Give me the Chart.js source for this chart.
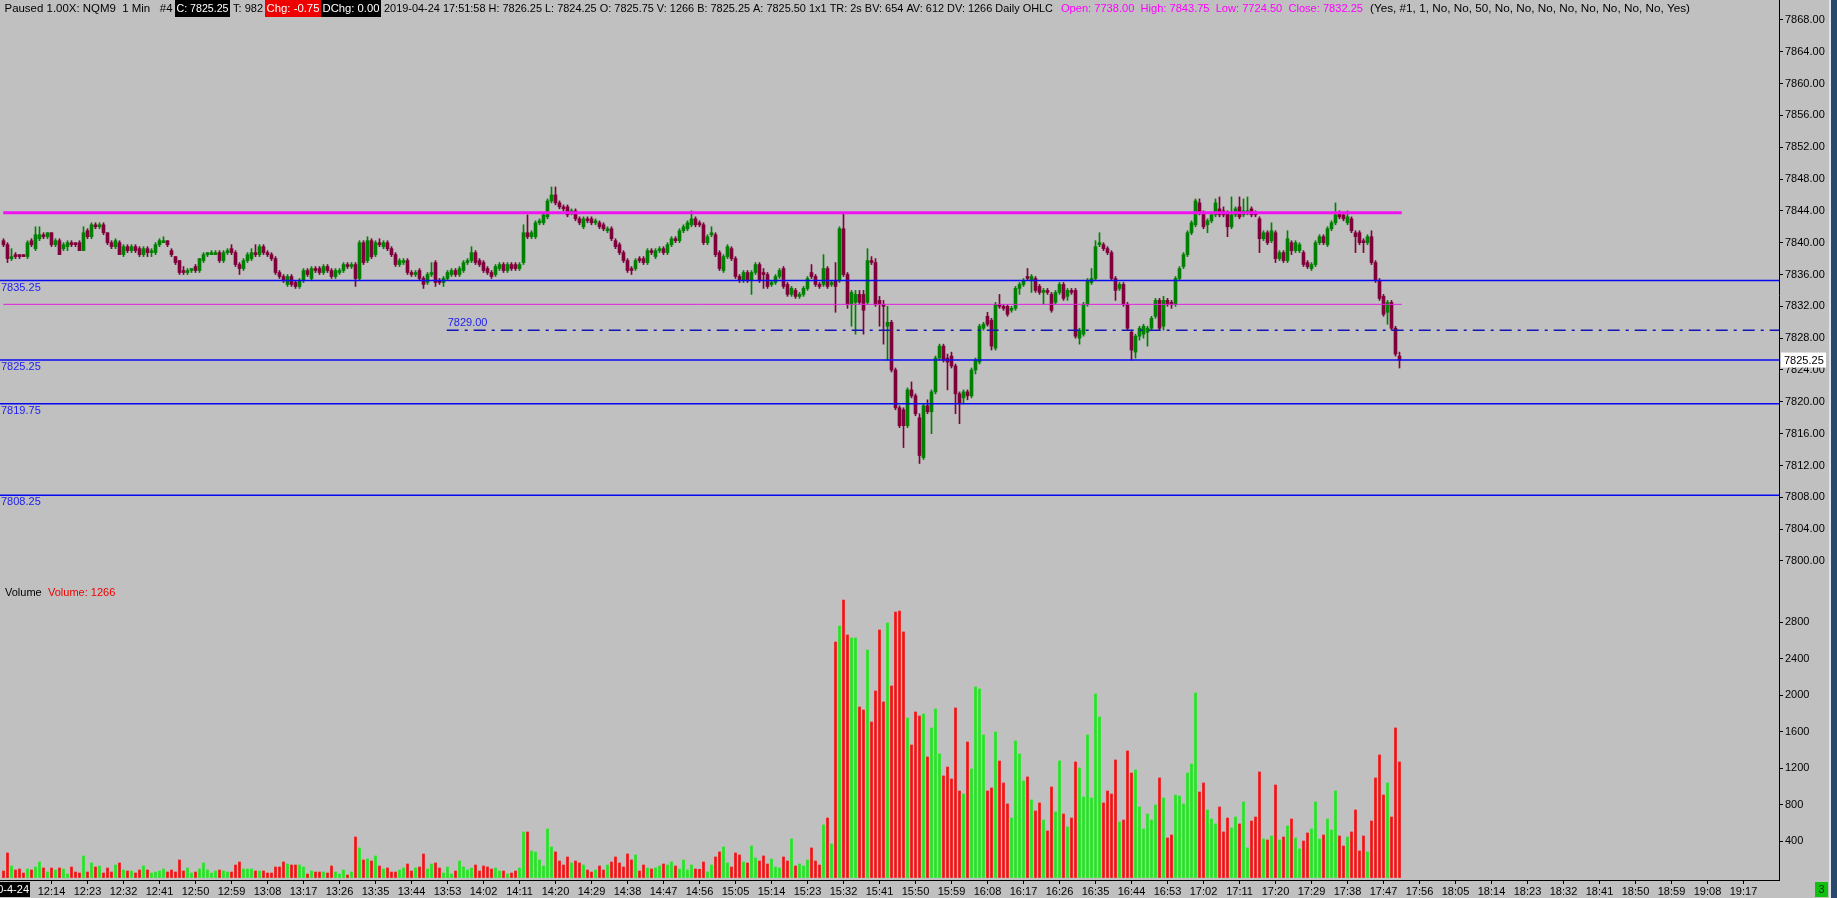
<!DOCTYPE html>
<html>
<head>
<meta charset="utf-8">
<title>NQM9 1 Min</title>
<script src="https://cdn.jsdelivr.net/npm/chart.js@4.4.1/dist/chart.umd.min.js"></script>
<style>
  html, body { margin: 0; padding: 0; background: #c0c0c0; overflow: hidden; }
  canvas { display: block; }
</style>
</head>
<body>
<canvas id="chart" width="1837" height="898"></canvas>
<script>
// first bar is 12:02, one bar per minute (minutes counted from 12:00)
const firstMinute = 2;

const opens = [
  7840.25,7839.75,7838,7838.5,7838.5,7838.5,7838.25,7840.25,7839.25,7840.5,
  7841,7840.75,7841.25,7839.75,7840.25,7839.25,7839.5,7840,7840,7840,
  7839,7841.5,7840.75,7842.25,7842,7842.25,7841.25,7840,7839.5,7840,
  7838.5,7839.5,7839,7839.5,7839.25,7838.5,7839.25,7838.75,7838.75,7839.75,
  7840,7840.25,7839,7838.25,7837.75,7836.5,7836.25,7836.5,7837,7836.5,
  7837.75,7838.5,7838.5,7838.5,7838.75,7837.75,7838.75,7839.25,7838.75,7837.25,
  7836.75,7837.75,7838,7838.75,7838.5,7839.5,7838.75,7838.5,7838,7836.25,
  7835.75,7834.75,7835.75,7835,7834.5,7835.25,7836.5,7835.5,7836.75,7836.75,
  7836.25,7837,7836.5,7835.75,7836.25,7836.5,7837.25,7837,7837.25,7835.5,
  7840,7837.75,7840.25,7838.5,7840,7839.5,7840,7839.25,7838.5,7837.25,
  7837.5,7837.75,7836.25,7836,7836.5,7835.5,7835,7836,7837.5,7835.25,
  7835,7835.5,7836,7836.5,7836,7836.5,7837.5,7837.75,7838.75,7837.75,
  7837.5,7836.75,7836.25,7836,7836.75,7837.25,7836.5,7837.25,7837.25,7836.75,
  7837.5,7841.25,7840.75,7840.75,7842.5,7842.5,7843.25,7845.25,7846,7845,
  7844.5,7844.5,7843.75,7844,7843,7842,7843,7843,7842.5,7842.5,
  7842.25,7841.5,7841.75,7840.25,7839.75,7838.75,7837.75,7836.75,7836.75,7838,
  7838,7837.5,7839,7838.25,7839,7839.25,7838.75,7839.75,7840.5,7840.25,
  7841.5,7841.75,7842.25,7843,7842.5,7842.25,7840,7841,7841,7838.75,
  7836.5,7838.25,7839.25,7838,7835.75,7835.25,7836.25,7835.25,7836.25,7837.25,
  7836.25,7836,7834.75,7835,7835.75,7836.75,7834.75,7833.5,7834,7833.25,
  7833.5,7834.25,7836.25,7835.75,7834.75,7834.75,7836.75,7834.75,7835.25,7835.25,
  7841.75,7836,7832.25,7832.5,7833.5,7833.5,7832.5,7837.75,7837.5,7832.75,
  7832.25,7829.5,7830,7824,7819.25,7819,7817,7821.5,7820.75,7818,
  7813,7819.5,7818.75,7821.25,7825.5,7827,7825.5,7825.75,7824.5,7821,
  7820.5,7821.25,7820.75,7824,7825,7829.25,7830.75,7830.25,7826.75,7832.25,
  7832,7832,7831.5,7831.75,7834.25,7834.75,7835.75,7835.25,7835.5,7834.5,
  7833.75,7834,7833.5,7832.5,7833.75,7834.75,7833.25,7834,7834,7828,
  7828.5,7832.25,7835,7835.5,7839.75,7839.75,7839.25,7838.75,7835.5,7834.25,
  7834.75,7832.25,7828.75,7826.25,7828.25,7828.5,7828.75,7829.25,7830.75,7832.75,
  7829.5,7832.75,7832.5,7832.25,7835.5,7837,7838.5,7841.25,7842.25,7845,
  7843.75,7842.25,7842.75,7843.5,7844.25,7844,7843.75,7842,7843.5,7844.5,
  7843.5,7843.75,7844.25,7843.75,7843,7840.5,7841.25,7840.25,7841.25,7838,
  7838.75,7837.75,7840,7839,7839,7838.75,7837.5,7836.75,7837.25,7840,
  7840.75,7839.75,7841.75,7842.5,7843.75,7843.5,7842.5,7843,7841.25,7841.25,
  7840.25,7840,7840.75,7837.5,7835.25,7833.25,7831.25,7832.5,7829.25,7825.75
];

const highs = [
  7840.5,7840,7839.25,7838.75,7838.5,7838.5,7840.25,7840.5,7842,7842,
  7841.25,7841.25,7841.25,7840.5,7840.5,7840,7840.25,7840.25,7840,7840.25,
  7842,7841.75,7842.5,7842.5,7842.5,7842.5,7841.25,7840.25,7840.5,7840.25,
  7839.75,7839.75,7839.75,7839.75,7839.5,7839.5,7839.5,7839.25,7840,7840.5,
  7840.75,7840.25,7839.25,7838.25,7837.75,7837,7836.75,7836.75,7837.25,7838,
  7838.75,7838.75,7839,7839,7839,7839,7839.25,7839.75,7839,7837.5,
  7838,7838.75,7839.25,7839.75,7839.75,7839.75,7839,7838.75,7838.25,7836.5,
  7836,7836,7836,7835.25,7835.5,7836.75,7836.75,7837,7837,7837,
  7837.25,7837.25,7836.75,7836.75,7836.75,7837.5,7837.5,7837.5,7837.5,7840.25,
  7840.25,7840.75,7840.5,7840.25,7840.5,7840.25,7840.25,7839.5,7838.75,7838,
  7838,7838,7836.5,7836.5,7836.75,7835.75,7836.25,7837.5,7837.75,7835.5,
  7835.75,7836.5,7836.75,7836.75,7837,7837.75,7838,7839.5,7839,7838,
  7837.75,7837,7836.5,7837.25,7837.5,7837.5,7837.5,7837.5,7837.5,7837.5,
  7842.25,7843.5,7841.5,7842.75,7843,7843.75,7845.5,7847,7847,7845.25,
  7844.75,7844.75,7844.25,7844.25,7843.25,7843.25,7843.25,7843.25,7843,7842.75,
  7842.5,7842,7842,7840.5,7840,7839,7838,7837,7838,7838.25,
  7838.25,7839.25,7839.25,7839.25,7839.5,7839.5,7840,7840.75,7840.75,7841.75,
  7842.25,7842.75,7844,7843.25,7842.75,7842.5,7841,7842,7841.25,7839,
  7838.5,7839.75,7839.5,7838.25,7836,7836.5,7836.5,7836.5,7837.5,7837.5,
  7836.75,7836.25,7835.25,7836,7836.75,7837,7835,7834.5,7834.25,7833.75,
  7834.5,7835.75,7837.25,7836,7835,7838.5,7837,7835.25,7837.5,7842,
  7843.75,7836.25,7834,7834,7834,7834,7839.25,7838.25,7838,7833.25,
  7832.75,7832,7830.25,7824.25,7819.5,7819.25,7821.75,7822.5,7821,7818.5,
  7819.75,7820.25,7821.5,7825.75,7827.25,7827.25,7826,7826.25,7824.75,7821.25,
  7821.5,7821.5,7824.25,7825.5,7829.75,7830,7831.25,7830.5,7832.5,7833.5,
  7832.25,7832.25,7832,7834.5,7835,7835.5,7836.75,7836,7835.75,7834.75,
  7834.25,7834.25,7833.75,7834,7835,7835,7834.25,7834.25,7834.25,7829.25,
  7832.5,7835.5,7836.75,7840.25,7841.25,7840,7839.5,7839,7835.75,7835,
  7835,7832.5,7829,7828.5,7829.5,7829.75,7829.5,7830.75,7833,7833,
  7833.25,7833,7832.75,7835.75,7837,7838.75,7841.5,7842.75,7845.5,7845.5,
  7844,7843,7843.75,7845.5,7845.75,7844.5,7844,7845.75,7844.5,7845.75,
  7845.5,7845.75,7844.5,7844,7843.25,7841.5,7841.5,7842.5,7841.5,7839,
  7839,7841.5,7840.25,7840.25,7840,7839,7837.75,7837.5,7840.25,7841,
  7841,7842,7842.75,7845,7844,7843.75,7844,7843.25,7841.5,7841.5,
  7840.5,7841,7841.5,7837.75,7835.5,7833.5,7832.75,7832.75,7829.5,7826.25
];

const lows = [
  7839.5,7837.5,7837.75,7838,7838,7838.25,7838,7839.5,7839,7840.25,
  7840.5,7840.5,7839.5,7839.5,7838.5,7839,7839,7839.5,7839.5,7839,
  7839,7840.5,7840.5,7841.75,7841.75,7841,7839.75,7839.25,7839.25,7838.5,
  7838.25,7838.75,7838.75,7838.75,7838.25,7838.25,7838.25,7838.25,7838.5,7839.5,
  7840,7839.5,7838.25,7837.25,7836,7836,7836,7836.25,7836.25,7836.25,
  7837.5,7838.25,7838.5,7838.5,7837.5,7837.5,7838.5,7838.5,7837,7836,
  7836.5,7837.5,7837.75,7838.25,7838.25,7838.5,7838.25,7837.75,7836,7835.5,
  7835,7834.5,7834.5,7834.25,7834.25,7835,7835.75,7835.25,7836.25,7836,
  7836,7836.25,7835.5,7835.5,7836,7836.25,7836.75,7836.75,7834.5,7835.25,
  7837.25,7837.5,7838,7838.25,7839.5,7839.25,7839,7838.25,7837,7837,
  7837.25,7836,7835.75,7835.75,7835.25,7834.25,7834.75,7835.75,7834.5,7834.75,
  7834.5,7835.25,7835.75,7835.75,7835.75,7836.25,7837.25,7837.5,7837.25,7837,
  7836.25,7836,7835.5,7835.75,7836.5,7836.25,7836.25,7836.5,7836.5,7836.5,
  7837.25,7840.5,7840.5,7840.5,7842.25,7842.25,7843,7845,7844.75,7844.25,
  7844,7843.25,7843.5,7842.75,7842.25,7841.75,7842.5,7842.25,7842.25,7841.75,
  7841.5,7841.25,7840.25,7839.25,7838.5,7837.5,7836.25,7836,7836.5,7837.5,
  7837.25,7837.25,7838.5,7838,7838.75,7838.5,7838.5,7839.5,7840,7840,
  7841.25,7841.5,7842,7842,7842,7839.75,7839.75,7840.75,7838.25,7836.5,
  7836.25,7838,7837.75,7835.5,7835,7835,7835,7833.5,7836,7835,
  7834.25,7834.25,7834.5,7834.75,7835.5,7834.25,7833.25,7833.25,7833,7833,
  7833.25,7834,7835.5,7834.5,7834.25,7834.5,7834.25,7834.5,7831.25,7835,
  7835.75,7831.75,7829.5,7828.5,7832.25,7828.5,7832.25,7837.25,7832,7829.5,
  7827.25,7825.25,7823.75,7819,7816.75,7814.25,7816.75,7820.5,7818.25,7812.25,
  7812.75,7818.5,7816,7821,7825.25,7825,7821.5,7824.25,7818.5,7817.25,
  7819.75,7820.25,7820.5,7823.5,7824.75,7829,7829.5,7826.5,7826.5,7831.75,
  7831.5,7830.75,7831.25,7831.5,7833.5,7834.5,7835.25,7833.75,7833.75,7833.5,
  7832.25,7833.5,7831.25,7832.25,7833.5,7832.75,7832.75,7833.5,7828,7827.25,
  7828.25,7832,7834.75,7835.25,7839.5,7839,7838.5,7835.25,7832.75,7834,
  7832,7829,7825.25,7825.5,7827.75,7828,7827,7829,7830.5,7829,
  7829,7832,7831.75,7832,7835.25,7836.75,7838.25,7841,7842,7843.5,
  7841.75,7841.25,7842.5,7843.25,7843.25,7843.25,7840.75,7841.75,7843.25,7843,
  7843.25,7843.5,7843.25,7843.25,7838.75,7840.25,7839.75,7840,7837.5,7837.75,
  7837.5,7837.5,7838.5,7838.75,7838.75,7837,7836.75,7836.5,7837,7839.75,
  7839.75,7839.5,7841.5,7842.25,7843,7842.75,7842.25,7841.25,7838.75,7839.75,
  7838.75,7839.75,7837.25,7835,7832.75,7830.75,7829.75,7829,7825.75,7824.25
];

const closes = [
  7839.75,7838,7838.25,7838.25,7838.25,7838.25,7840,7839.75,7841,7841,
  7840.75,7841.25,7839.75,7840.25,7838.5,7839.75,7840,7839.75,7839.75,7839,
  7841.25,7840.75,7842.25,7842,7842.25,7841.25,7840,7839.5,7840.25,7838.5,
  7839.5,7839,7839.5,7839,7838.5,7839.25,7838.75,7839,7839.75,7840.25,
  7840.25,7839.75,7838.5,7837.5,7836.25,7836.25,7836.5,7836.75,7836.5,7838,
  7838.5,7838.75,7838.75,7838.75,7837.75,7838.75,7839,7838.75,7837.25,7836.75,
  7837.75,7838.5,7838.75,7838.5,7839.5,7838.75,7838.5,7838,7836.25,7835.75,
  7835.25,7835.75,7834.75,7834.5,7835.25,7836.5,7836,7836.75,7836.5,7836.25,
  7837,7836.5,7835.75,7836.5,7836.5,7837.25,7837,7837.25,7835.5,7840,
  7837.5,7840.25,7838.25,7840,7839.75,7840,7839.25,7838.5,7837.25,7837.75,
  7837.75,7836.25,7836,7836.25,7835.5,7834.75,7836,7836.25,7835,7835,
  7835.5,7836.25,7836.5,7836,7836.75,7837.5,7837.75,7838.75,7837.5,7837.25,
  7836.5,7836.25,7835.75,7837,7837.25,7836.5,7837.25,7836.75,7836.75,7837.25,
  7841.25,7840.75,7841.25,7842.5,7842.75,7843.5,7845.25,7846,7845,7844.5,
  7844.25,7843.5,7844,7843,7842.5,7843,7842.75,7842.5,7842.75,7842,
  7841.75,7841.75,7840.5,7839.5,7838.75,7837.75,7836.5,7836.5,7837.75,7837.75,
  7837.5,7839,7838.75,7839,7839.25,7838.75,7839.75,7840.5,7840.25,7841.5,
  7842,7842.5,7843,7842.25,7842.25,7840,7840.75,7841.25,7838.5,7836.75,
  7838.25,7839.5,7838,7835.75,7835.25,7836.25,7835.25,7836.25,7837.25,7835.25,
  7836,7834.5,7835,7835.75,7836.5,7834.5,7833.5,7834.25,7833.25,7833.5,
  7834.25,7835.5,7835.75,7834.75,7834.5,7836.75,7834.5,7835,7834.5,7841.75,
  7836,7832.25,7833.75,7833.5,7832.5,7831.5,7837.75,7837.5,7832.25,7832.25,
  7832,7830,7824,7819.25,7817,7817,7821.5,7820.75,7818.5,7813.25,
  7819.5,7818.75,7821.25,7825.5,7827,7825.25,7825,7824.5,7821,7819.75,
  7821.25,7820.75,7824,7825.25,7829.5,7829.75,7829.75,7827,7832.25,7832,
  7831.75,7831,7831.75,7834.25,7834.75,7835.25,7835.5,7835.75,7834,7833.75,
  7834,7833.75,7831.5,7833.75,7834.75,7833,7834,7833.75,7828.25,7829,
  7832.25,7835.25,7835.5,7839.5,7840,7839.25,7838.75,7835.5,7834,7834.75,
  7832.25,7829.25,7826.5,7828.25,7829.25,7829.5,7829.25,7830.5,7832.75,7829.25,
  7832.75,7832.25,7832.25,7835.5,7836.75,7838.5,7841.25,7842.5,7845.25,7843.75,
  7842,7842.75,7843.5,7845,7843.5,7843.5,7842,7843.5,7844.25,7843.25,
  7844,7844,7843.5,7843.5,7840.5,7841.25,7840,7841.5,7838,7838.75,
  7837.75,7840.5,7839,7840,7839.75,7837.25,7837,7837.25,7840,7840.75,
  7840,7841.75,7842.5,7843.5,7843.25,7843,7843.25,7841.5,7840.75,7840,
  7840,7840.75,7837.5,7835.25,7833,7831,7832.5,7829.25,7826,7825.25
];

const volumes = [
  71,269,126,82,93,49,93,82,115,170,
  104,60,104,82,104,93,38,115,60,49,
  236,60,159,115,126,49,104,60,137,159,
  82,71,71,49,82,126,82,49,60,71,
  93,60,82,60,192,71,104,49,60,93,
  159,82,49,71,82,71,60,60,137,170,
  93,93,93,71,71,71,49,49,115,115,
  170,148,137,137,137,115,38,71,60,60,
  60,49,126,60,38,82,27,60,444,323,
  192,203,181,236,126,93,104,60,60,82,
  104,148,71,104,115,258,93,148,159,104,
  49,115,38,71,181,115,82,104,137,71,
  126,115,93,104,71,71,38,49,71,104,
  499,499,290,280,192,126,532,334,280,181,
  137,225,159,181,159,137,82,60,82,126,
  82,137,170,225,159,115,258,192,247,71,
  137,104,93,104,126,148,137,170,126,93,
  192,82,137,93,90,170,61,137,225,280,
  335,159,115,269,247,170,159,345,214,181,
  236,148,203,115,104,225,181,422,126,148,
  126,192,324,181,137,576,652,368,2581,2756,
  3041,2658,2625,2625,1869,1836,2493,1704,2044,2713,
  1924,2789,2099,2910,2921,2691,1748,1452,1814,1770,
  1792,1321,1639,1847,1354,1113,1211,1080,1858,948,
  915,1485,1189,2088,2066,1562,948,981,1595,1277,
  1036,806,652,1496,1354,1058,1102,850,729,817,
  630,510,992,718,1277,696,554,652,1266,1200,
  883,1562,872,2011,1759,817,948,915,1288,608,
  630,1387,1145,1178,773,532,696,630,795,1091,
  872,433,466,904,893,806,1145,1244,2022,937,
  1036,740,641,587,773,499,652,543,663,587,
  828,324,619,663,1157,422,411,455,1014,411,
  444,565,641,433,313,400,488,532,828,422,
  466,641,521,948,455,345,444,499,740,291,
  455,280,619,1091,1343,904,1036,663,1639,1266
];

const timeLabels = [
  '12:14','12:23','12:32','12:41','12:50','12:59','13:08','13:17','13:26','13:35',
  '13:44','13:53','14:02','14:11','14:20','14:29','14:38','14:47','14:56','15:05',
  '15:14','15:23','15:32','15:41','15:50','15:59','16:08','16:17','16:26','16:35',
  '16:44','16:53','17:02','17:11','17:20','17:29','17:38','17:47','17:56','18:05',
  '18:14','18:23','18:32','18:41','18:50','18:59','19:08','19:17'
];
const priceTicks = [7800,7804,7808,7812,7816,7820,7824,7828,7832,7836,7840,7844,7848,7852,7856,7860,7864,7868];
const volumeTicks = [400,800,1200,1600,2000,2400,2800];

// horizontal levels
const blueLevels = [7835.25, 7825.25, 7819.75, 7808.25];
const dailyHigh = 7843.75;
const dailyClose = 7832.25;
const pivotLevel = 7829.00;
const lastPrice = 7825.25;

const FONT = '"Liberation Sans", Arial, sans-serif';
const X_MIN = 1.125, X_MAX = 445.875;
const LEVEL_START = 1.95, LEVEL_END = 351.55, PIVOT_START = 112.8;

const minutes = opens.map((_, i) => firstMinute + i);
const isUp = i => closes[i] >= opens[i];
const toMinute = t => { const [h, m] = t.split(':').map(Number); return h * 60 + m - 720; };

function hline(y, x0, x1, color, width, dash) {
  return {
    type: 'line', yAxisID: 'y', order: 0,
    data: [{ x: x0, y }, { x: x1, y }],
    borderColor: color, borderWidth: width, borderDash: dash || [],
    pointRadius: 0, fill: false
  };
}

const datasets = [
  hline(dailyHigh, LEVEL_START, LEVEL_END, '#f012f0', 3),
  hline(dailyClose, LEVEL_START, LEVEL_END, '#e020e0', 1),
  hline(pivotLevel, PIVOT_START, X_MAX, '#1414b4', 1.5, [12, 6, 3, 6]),
  ...blueLevels.map(v => hline(v, X_MIN, X_MAX, '#0808f0', 1.5)),
  {
    type: 'bar', yAxisID: 'y', order: 1, grouped: false,
    data: minutes.map((m, i) => ({ x: m, y: [opens[i], closes[i]] })),
    backgroundColor: c => isUp(c.dataIndex) ? '#008000' : '#80003c',
    barThickness: 3, minBarLength: 1
  },
  {
    type: 'bar', yAxisID: 'y', order: 2, grouped: false,
    data: minutes.map((m, i) => ({ x: m, y: [lows[i], highs[i]] })),
    backgroundColor: c => isUp(c.dataIndex) ? '#008000' : '#80003c',
    barThickness: 1
  },
  {
    type: 'bar', yAxisID: 'yv', order: 3, grouped: false,
    data: minutes.map((m, i) => ({ x: m, y: volumes[i] })),
    backgroundColor: c => isUp(c.dataIndex) ? '#1ee81e' : '#f81010',
    barThickness: 2
  }
];

function fitText(ctx, text, x, y, w) {
  const m = ctx.measureText(text).width;
  ctx.save();
  ctx.translate(x, y);
  ctx.scale(Math.min(1.15, w / m), 1);
  ctx.fillText(text, 0, 0);
  ctx.restore();
}

const header = [
  { text: 'Paused 1.00X: NQM9  1 Min   #4', x: 4.5, w: 168, fg: '#000' },
  { text: 'C: 7825.25', x: 175, w: 55, fg: '#fff', bg: '#000' },
  { text: 'T: 982', x: 233, w: 30, fg: '#000' },
  { text: 'Chg: -0.75', x: 265, w: 56, fg: '#fff', bg: '#f00000' },
  { text: 'DChg: 0.00', x: 321, w: 60, fg: '#fff', bg: '#000' },
  { text: '2019-04-24 17:51:58 H: 7826.25 L: 7824.25 O: 7825.75 V: 1266 B: 7825.25 A: 7825.50 1x1 TR: 2s BV: 654 AV: 612 DV: 1266 Daily OHLC', x: 384, w: 669, fg: '#000' },
  { text: 'Open: 7738.00  High: 7843.75  Low: 7724.50  Close: 7832.25', x: 1061, w: 302, fg: '#ff00ff' },
  { text: '(Yes, #1, 1, No, No, 50, No, No, No, No, No, No, No, No, Yes)', x: 1370, w: 320, fg: '#000' }
];

const decor = {
  id: 'decor',
  beforeDraw(chart) {
    const ctx = chart.ctx;
    ctx.save();
    ctx.fillStyle = '#c0c0c0';
    ctx.fillRect(0, 0, chart.width, chart.height);
    ctx.restore();
  },
  afterDraw(chart) {
    const ctx = chart.ctx;
    const y = chart.scales.y, x = chart.scales.x;
    ctx.save();
    ctx.font = '11px ' + FONT;
    ctx.textBaseline = 'middle';

    // header line
    header.forEach(s => {
      if (s.bg) { ctx.fillStyle = s.bg; ctx.fillRect(s.x, 0, s.w, 17); }
      ctx.fillStyle = s.fg;
      fitText(ctx, s.text, s.bg ? s.x + 1.5 : s.x, 9, s.bg ? s.w - 3 : s.w);
    });

    // level labels
    ctx.fillStyle = '#1c1cf0';
    ctx.textBaseline = 'top';
    blueLevels.forEach(v => ctx.fillText(v.toFixed(2), 1, y.getPixelForValue(v) + 1.5));
    ctx.textBaseline = 'bottom';
    ctx.fillText(pivotLevel.toFixed(2), x.getPixelForValue(PIVOT_START) + 1, y.getPixelForValue(pivotLevel) - 2);

    // volume pane title
    ctx.textBaseline = 'middle';
    ctx.fillStyle = '#000';
    ctx.fillText('Volume', 5, 593);
    ctx.fillStyle = '#f00000';
    ctx.fillText('Volume: ' + volumes[volumes.length - 1], 48, 593);

    // last price box on the axis
    const py = y.getPixelForValue(lastPrice);
    ctx.fillStyle = '#fff';
    ctx.fillRect(1781, py - 7.5, 45, 15);
    ctx.fillStyle = '#000';
    ctx.fillText(lastPrice.toFixed(2), 1784, py + 0.5);

    // date box bottom left
    ctx.fillStyle = '#000';
    ctx.fillRect(0, 882, 30, 15);
    ctx.save();
    ctx.beginPath(); ctx.rect(0, 882, 30, 15); ctx.clip();
    ctx.fillStyle = '#fff';
    ctx.textAlign = 'right';
    ctx.fillText('20-4-24', 29, 890);
    ctx.restore();

    // status box and window edge at the right
    ctx.fillStyle = '#10c010';
    ctx.fillRect(1815, 882, 13, 15);
    ctx.fillStyle = '#003000';
    ctx.textAlign = 'center';
    ctx.fillText('3', 1821.5, 890);
    ctx.fillStyle = '#dde4ec';
    ctx.fillRect(1829, 0, 2, 898);
    ctx.fillStyle = '#27496b';
    ctx.fillRect(1831, 0, 6, 898);
    ctx.restore();
  }
};

const tickFont = { family: FONT, size: 11 };

new Chart(document.getElementById('chart'), {
  type: 'bar',
  data: { datasets },
  options: {
    responsive: false,
    animation: false,
    events: [],
    devicePixelRatio: 1,
    layout: { padding: 0 },
    plugins: { legend: { display: false }, tooltip: { enabled: false } },
    scales: {
      x: {
        type: 'linear', position: 'bottom', min: X_MIN, max: X_MAX, offset: false,
        afterBuildTicks: s => { s.ticks = timeLabels.map(t => ({ value: toMinute(t) })); },
        afterFit: s => { s.height = 18; s.paddingLeft = 0; s.paddingRight = 0; },
        ticks: { autoSkip: false, maxRotation: 0, padding: 1, color: '#000', font: tickFont,
                 callback: (v, i) => timeLabels[i] },
        grid: { drawOnChartArea: false, offset: false, tickLength: 4, color: '#000' },
        border: { color: '#000' }
      },
      y: {
        type: 'linear', position: 'right', stack: 'panes', stackWeight: 590,
        min: 7796.35, max: 7870.5,
        afterBuildTicks: s => { s.ticks = priceTicks.map(v => ({ value: v })); },
        afterFit: s => { s.width = 58; s.paddingTop = 0; s.paddingBottom = 0; },
        ticks: { padding: 2, color: '#000', font: tickFont, callback: v => v.toFixed(2) },
        grid: { drawOnChartArea: false, tickLength: 4, color: '#000' },
        border: { color: '#000' }
      },
      yv: {
        type: 'linear', position: 'right', stack: 'panes', stackWeight: 290,
        min: -27.4, max: 3151,
        afterBuildTicks: s => { s.ticks = volumeTicks.map(v => ({ value: v })); },
        afterFit: s => { s.width = 58; s.paddingTop = 0; s.paddingBottom = 0; },
        ticks: { padding: 2, color: '#000', font: tickFont, callback: v => String(v) },
        grid: { drawOnChartArea: false, tickLength: 4, color: '#000' },
        border: { color: '#000' }
      }
    }
  },
  plugins: [decor]
});
</script>
</body>
</html>
